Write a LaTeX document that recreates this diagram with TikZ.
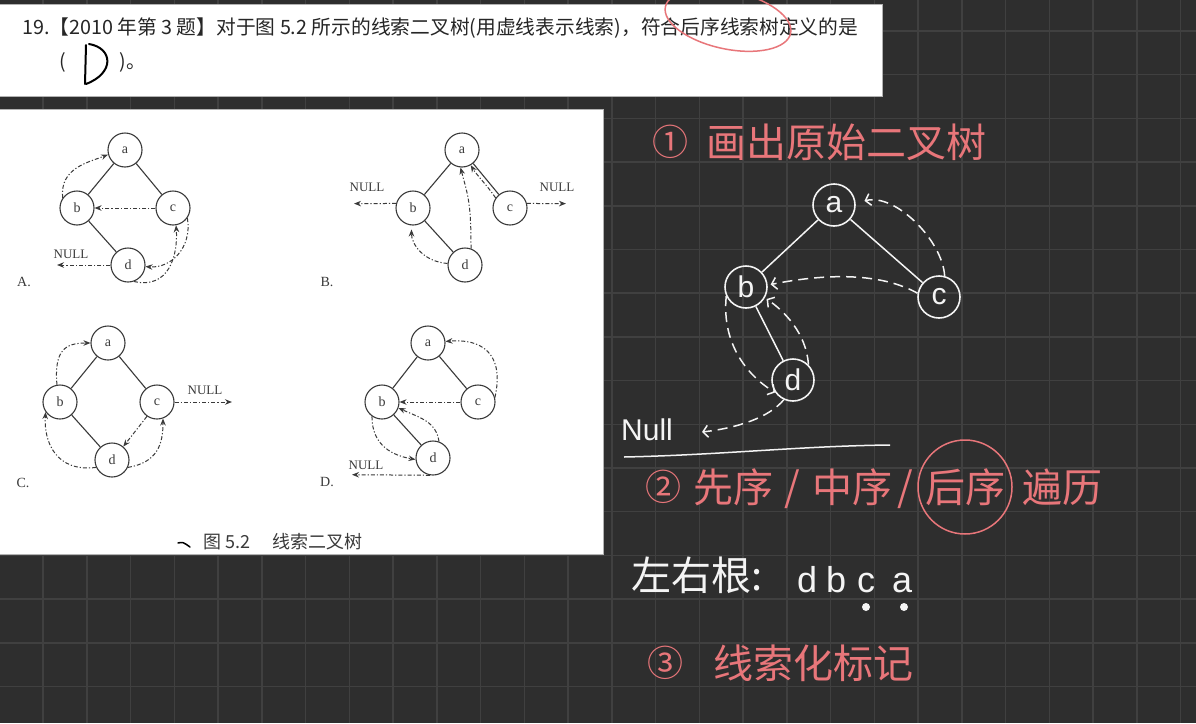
\documentclass[tikz,border=0pt]{standalone}
\usepackage{fontspec}
\usepackage{graphicx}
\setmainfont{Liberation Serif}
\newfontfamily\cjk{Noto Sans CJK SC}
\newfontfamily\hand{Liberation Sans}
\usetikzlibrary{arrows.meta}
\definecolor{bg}{HTML}{2E2E2E}
\definecolor{gridc}{HTML}{404040}
\definecolor{ink}{HTML}{3A3A3A}
\definecolor{redpen}{HTML}{E8767A}
\definecolor{whitepen}{HTML}{F4F4F4}
\begin{document}
\begin{tikzpicture}[x=1pt,y=-1pt,
  bk/.style={circle, draw=ink, line width=1.1pt, minimum size=34pt, inner sep=0pt, text=ink, font=\fontsize{14}{14}\selectfont},
  bkedge/.style={draw=ink, line width=1.1pt},
  thr/.style={draw=ink, line width=1pt, dash pattern=on 4pt off 2pt on 1.2pt off 2pt, -{Stealth[length=7pt,width=5.5pt]}},
  nulltxt/.style={font=\fontsize{13}{13}\selectfont, text=ink, inner sep=0pt},
  optlab/.style={font=\fontsize{14}{14}\selectfont, text=ink, inner sep=0pt},
  hn/.style={circle, draw=whitepen, line width=1.6pt, minimum size=42pt, inner sep=0pt, text=whitepen, font=\hand\fontsize{30}{30}\selectfont},
  hedge/.style={draw=whitepen, line width=1.5pt},
  hthr/.style={draw=whitepen, line width=1.5pt, dash pattern=on 10pt off 6pt, -{Straight Barb[length=5pt,width=12pt]}},
  redtxt/.style={text=redpen, font=\cjk\fontsize{40}{40}\selectfont, inner sep=0pt},
  whtxt/.style={text=whitepen, font=\cjk\fontsize{40}{40}\selectfont, inner sep=0pt},
  hlet/.style={text=whitepen, font=\hand\fontsize{36}{36}\selectfont, inner sep=0pt, anchor=base}
]
\useasboundingbox (0,0) rectangle (1196,723);
\fill[bg] (0,0) rectangle (1196,723);
\foreach \i in {0,...,26} \draw[gridc, line width=1.5pt] ({43+43.75*\i},0) -- ({43+43.75*\i},723);
\foreach \j in {0,...,15} \draw[gridc, line width=1.5pt] (0,{31+43.7*\j}) -- (1196,{31+43.7*\j});

% question box
\filldraw[fill=white, draw=gray!60, line width=0.8pt] (-1,4) rectangle (882,96);
\node[anchor=west, inner sep=0pt, text=black!85] (q1) at (22,28) {\resizebox{836pt}{!}{\cjk\fontsize{19.5}{20}\selectfont 19.【2010 年第 3 题】对于图 5.2 所示的线索二叉树(用虚线表示线索)，符合后序线索树定义的是}};
\node[inner sep=0pt, text=black!85, font=\cjk\fontsize{19.5}{20}\selectfont] (lp) at (63,62) {(};
\node[inner sep=0pt, text=black!85, font=\cjk\fontsize{19.5}{20}\selectfont] (rp) at (133,62) {)。};
\draw[black, line width=2pt, line cap=round, line join=round] (86,45) -- (85,84) (89,44) .. controls (113,48) and (115,73) .. (86,84);
\draw[redpen, line width=1.5pt, rotate around={-12:(728,20)}] (728,20) ellipse [x radius=64, y radius=29];

% figure box
\filldraw[fill=white, draw=gray!60, line width=0.8pt] (-1,109) rectangle (603,554);

% ---- A
\node[bk] (Aa) at (125,150) {a};
\node[bk] (Ab) at (77,208) {b};
\node[bk] (Ac) at (173,208) {c};
\node[bk] (Ad) at (128,265) {d};
\draw[bkedge] (Aa) -- (Ab);
\draw[bkedge] (Aa) -- (Ac);
\draw[bkedge] (Ab) -- (Ad);
\draw[thr] (Ab.145) .. controls +(-3,-30) and +(-20,8) .. (Aa.195);
\draw[thr] (Ac.west) -- (Ab.east);
\draw[thr] (Ad.-70) .. controls +(35,8) and +(2,30) .. (Ac.-80);
\draw[thr] (Ac.-35) .. controls +(5,30) and +(25,2) .. (Ad.-5);
\coordinate (AnullEnd) at (57,265);
\draw[thr] (Ad.west) -- (AnullEnd);
\node[nulltxt] (AnullTxt) at (71,254) {NULL};
\node[optlab] (labA) at (24,282) {A.};

% ---- B
\node[bk] (Ba) at (462,150) {a};
\node[bk] (Bb) at (413,208) {b};
\node[bk] (Bc) at (510,208) {c};
\node[bk] (Bd) at (465,265) {d};
\draw[bkedge] (Ba) -- (Bb);
\draw[bkedge] (Ba) -- (Bc);
\draw[bkedge] (Bb) -- (Bd);
\coordinate (BnullL) at (354,203.6);
\coordinate (BnullR) at (566,203.6);
\draw[thr] (Bb.165) -- (BnullL);
\draw[thr] (Bc.15) -- (BnullR);
\node[nulltxt] (BnullTxtL) at (367,187) {NULL};
\node[nulltxt] (BnullTxtR) at (557,187) {NULL};
\draw[thr, shorten >=4pt] (Bd.175) .. controls +(-25,-2) and +(0,18) .. (Bb.-95);
\draw[thr] (Bd.70) .. controls +(0,-45) and +(8,30) .. (Ba.-95);
\draw[thr] (Bc.145) .. controls +(-8,-12) and +(6,10) .. (Ba.-60);
\node[optlab] (labB) at (327,282) {B.};

% ---- C
\node[bk] (Ca) at (108,343) {a};
\node[bk] (Cb) at (60,402) {b};
\node[bk] (Cc) at (157,402) {c};
\node[bk] (Cd) at (112,460) {d};
\draw[bkedge] (Ca) -- (Cb);
\draw[bkedge] (Ca) -- (Cc);
\draw[bkedge] (Cb) -- (Cd);
\draw[thr] (Cb.100) .. controls +(-3,-35) and +(-25,0) .. (Ca.180);
\draw[thr] (Cd.205) .. controls +(-40,5) and +(-2,30) .. (Cb.-145);
\draw[thr] (Cd.-25) .. controls +(30,-5) and +(0,25) .. (Cc.-70);
\draw[thr] (Cc.-125) -- (Cd.50);
\coordinate (CnullEnd) at (232,402);
\draw[thr] (Cc.east) -- (CnullEnd);
\node[nulltxt] (CnullTxt) at (205,390) {NULL};
\node[optlab] (labC) at (23,483) {C.};

% ---- D
\node[bk] (Da) at (428,343) {a};
\node[bk] (Db) at (382,402) {b};
\node[bk] (Dc) at (478,402) {c};
\node[bk] (Dd) at (433,458) {d};
\draw[bkedge] (Da) -- (Db);
\draw[bkedge] (Da) -- (Dc);
\draw[bkedge] (Db) -- (Dd);
\draw[thr] (Dc.15) .. controls +(10,-45) and +(35,-3) .. (Da.5);
\draw[thr] (Dc.west) -- (Db.east);
\draw[thr] (Dd.70) .. controls +(-3,-20) and +(22,10) .. (Db.-20);
\draw[thr] (Db.-125) .. controls +(0,30) and +(-22,-4) .. (Dd.185);
\coordinate (DnullEnd) at (352,474.7);
\draw[thr] (Dd.-100) -- (DnullEnd);
\node[nulltxt] (DnullTxt) at (366,465) {NULL};
\node[optlab] (labD) at (327,482) {D.};

% caption
\draw[black, line width=1.5pt, line cap=round] (178,543) .. controls (183,542) .. (190,547);
\node[inner sep=0pt, text=ink, font=\cjk\fontsize{18}{18}\selectfont] (cap) at (283,542) {图 5.2\hspace{22pt}线索二叉树};

% ---- handwritten notes
\node[redtxt, font=\cjk\fontsize{36}{36}\selectfont] (t1num) at (670,142) {①};
\node[redtxt] (t1) at (846,142) {画出原始二叉树};

\node[hn] (Ha) at (834,205) {a};
\node[hn] (Hb) at (746,287) {b};
\node[hn] (Hc) at (939,297) {c};
\node[hn] (Hd) at (793,380) {d};
\draw[hedge] (Ha) -- (Hb);
\draw[hedge] (Ha) -- (Hc);
\draw[hedge] (Hb) -- (Hd);
\draw[hthr, shorten >=9pt] (Hc.75) .. controls +(-2,-35) and +(40,-10) .. (Ha.5);
\draw[hthr, shorten >=3pt] (Hc.170) .. controls +(-45,-25) and +(40,-8) .. (Hb.5);
\draw[hthr, shorten >=2pt] (Hd.45) .. controls +(-2,-32) and +(18,12) .. (Hb.-30);
\draw[hthr] (Hb.205) .. controls +(-5,50) and +(-25,-15) .. (Hd.215);
\node[text=whitepen, font=\hand\fontsize{30}{30}\selectfont, inner sep=0pt] (Hnull) at (647,430) {Null};
\coordinate (HnullTip) at (702,432);
\draw[hthr] (Hd.-115) .. controls +(-15,18) and +(35,-4) .. (HnullTip);

\draw[whitepen, line width=1.5pt] (624,457) .. controls (720,455) and (800,446) .. (890,445);

\node[redtxt, font=\cjk\fontsize{36}{36}\selectfont] (t2num) at (663,487) {②};
\node[redtxt] (t2a) at (733,487) {先序};
\node[redtxt] (s1) at (792,489) {/};
\node[redtxt] (t2b) at (852,487) {中序};
\node[redtxt] (s2) at (905,489) {/};
\node[redtxt, draw=redpen, line width=1.5pt, circle, minimum size=94pt] (t2c) at (965,487) {后序};
\node[redtxt] (t2d) at (1062,487) {遍历};

\node[whtxt] (lrr) at (697,575) {左右根:};
\node[hlet] (sd) at (807,592) {d};
\node[hlet] (sb) at (836,592) {b};
\node[hlet] (sc) at (866,592) {c};
\node[hlet] (sa) at (902,592) {a};
\node[circle, fill=whitepen, minimum size=8pt, inner sep=0pt] (dotc) at (866,607) {};
\node[circle, fill=whitepen, minimum size=8pt, inner sep=0pt] (dota) at (904,607) {};

\node[redtxt, font=\cjk\fontsize{36}{36}\selectfont] (t3num) at (665,663) {③};
\node[redtxt] (t3) at (813,663) {线索化标记};
\end{tikzpicture}
\end{document}
